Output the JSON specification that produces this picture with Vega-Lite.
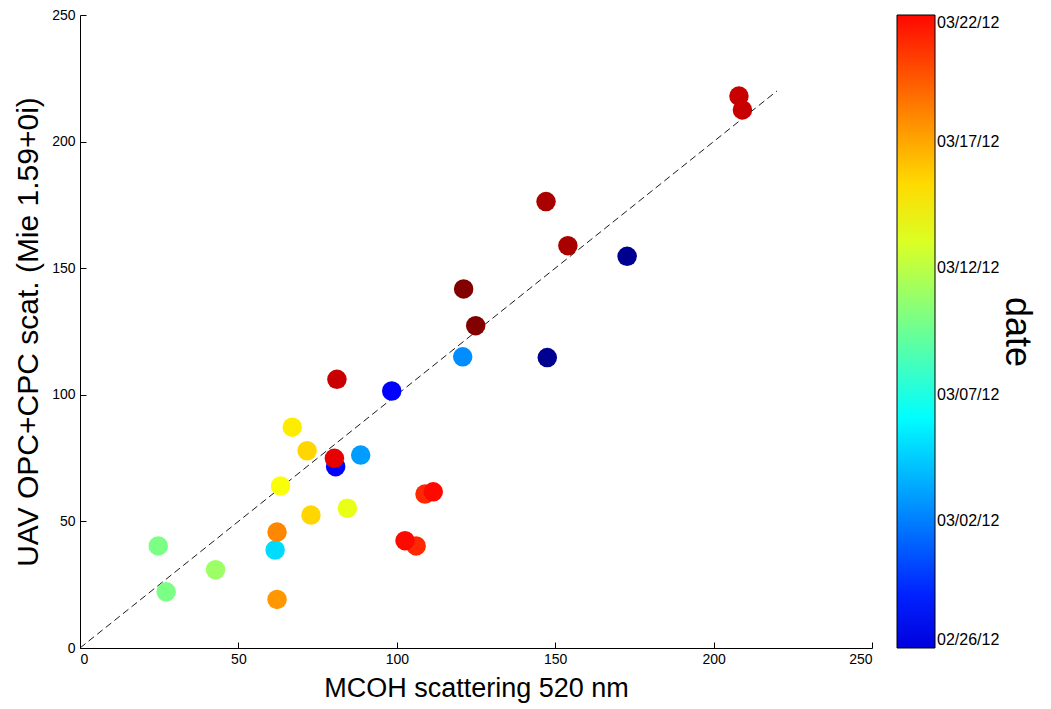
{
  "$schema": "https://vega.github.io/schema/vega-lite/v6.json",
  "width": 792,
  "height": 633,
  "autosize": {"type": "none"},
  "padding": {"left": 80, "top": 15, "right": 179, "bottom": 61},
  "background": "white",
  "config": {"view": {"stroke": null}, "font": "Liberation Sans"},
  "datasets": {
    "points": [
      {"mcoh": 24.7, "uav": 40.3, "date": "2012-03-10"},
      {"mcoh": 27.2, "uav": 22.2, "date": "2012-03-10"},
      {"mcoh": 42.8, "uav": 30.9, "date": "2012-03-11"},
      {"mcoh": 61.6, "uav": 38.7, "date": "2012-03-05"},
      {"mcoh": 62.2, "uav": 45.8, "date": "2012-03-18"},
      {"mcoh": 62.2, "uav": 19.2, "date": "2012-03-17T12:00Z"},
      {"mcoh": 63.3, "uav": 64.0, "date": "2012-03-14"},
      {"mcoh": 67.0, "uav": 87.2, "date": "2012-03-14T18:00Z"},
      {"mcoh": 71.7, "uav": 77.9, "date": "2012-03-15T12:00Z"},
      {"mcoh": 72.9, "uav": 52.5, "date": "2012-03-15T12:00Z"},
      {"mcoh": 80.7, "uav": 71.6, "date": "2012-02-27"},
      {"mcoh": 80.3, "uav": 74.9, "date": "2012-03-23"},
      {"mcoh": 81.1, "uav": 106.1, "date": "2012-03-24"},
      {"mcoh": 88.6, "uav": 76.2, "date": "2012-03-03"},
      {"mcoh": 84.4, "uav": 55.2, "date": "2012-03-13T12:00Z"},
      {"mcoh": 98.4, "uav": 101.5, "date": "2012-02-27"},
      {"mcoh": 106.1, "uav": 40.3, "date": "2012-03-21"},
      {"mcoh": 102.6, "uav": 42.4, "date": "2012-03-22"},
      {"mcoh": 108.9, "uav": 60.8, "date": "2012-03-21"},
      {"mcoh": 111.5, "uav": 61.7, "date": "2012-03-22"},
      {"mcoh": 120.8, "uav": 115.0, "date": "2012-03-02T12:00Z"},
      {"mcoh": 121.1, "uav": 141.8, "date": "2012-03-26T06:00Z"},
      {"mcoh": 124.9, "uav": 127.3, "date": "2012-03-26T06:00Z"},
      {"mcoh": 147.1, "uav": 176.3, "date": "2012-03-25"},
      {"mcoh": 154.0, "uav": 158.9, "date": "2012-03-25"},
      {"mcoh": 172.7, "uav": 154.7, "date": "2012-02-23T12:00Z"},
      {"mcoh": 147.5, "uav": 114.7, "date": "2012-02-23T12:00Z"},
      {"mcoh": 208.0, "uav": 218.0, "date": "2012-03-24"},
      {"mcoh": 209.1, "uav": 212.5, "date": "2012-03-24"}
    ],
    "oneToOne": [
      {"mcoh": 0, "uav": 0},
      {"mcoh": 220, "uav": 220}
    ]
  },
  "encoding": {
    "x": {
      "field": "mcoh",
      "type": "quantitative",
      "scale": {"domain": [0, 250], "nice": false, "zero": false},
      "axis": {
        "title": "MCOH scattering 520 nm",
        "values": [0, 50, 100, 150, 200, 250],
        "grid": false,
        "tickSize": -6,
        "tickColor": "#000",
        "domainColor": "#000",
        "labelColor": "#000",
        "labelFontSize": 14,
        "labelPadding": 10,
        "titleFontSize": 27,
        "titleFontWeight": "normal",
        "titleColor": "#000",
        "titlePadding": 9
      }
    },
    "y": {
      "field": "uav",
      "type": "quantitative",
      "scale": {"domain": [0, 250], "nice": false, "zero": false},
      "axis": {
        "title": "UAV OPC+CPC scat. (Mie 1.59+0i)",
        "values": [0, 50, 100, 150, 200, 250],
        "grid": false,
        "tickSize": -6,
        "tickColor": "#000",
        "domainColor": "#000",
        "labelColor": "#000",
        "labelFontSize": 14,
        "labelPadding": 11,
        "titleFontSize": 30,
        "titleFontWeight": "normal",
        "titleColor": "#000",
        "titlePadding": 8
      }
    }
  },
  "layer": [
    {
      "data": {"name": "oneToOne"},
      "mark": {"type": "line", "color": "#000", "strokeWidth": 0.9, "strokeDash": [7, 4]}
    },
    {
      "data": {"name": "points", "format": {"parse": {"date": "date"}}},
      "mark": {"type": "circle", "size": 380, "opacity": 1},
      "encoding": {
        "color": {
          "field": "date",
          "type": "quantitative",
          "title": "date",
          "scale": {
            "type": "linear",
            "domain": [1329955200000, 1330304040000, 1330652880000, 1331001720000, 1331350560000, 1331699400000, 1332048240000, 1332397080000, 1332745920000],
            "range": ["#000080", "#0000ff", "#0080ff", "#00ffff", "#80ff80", "#ffff00", "#ff8000", "#ff0000", "#800000"],
            "interpolate": "rgb",
            "zero": false,
            "nice": false
          },
          "legend": null
        }
      }
    },
    {
      "data": {"name": "points", "format": {"parse": {"date": "date"}}},
      "mark": {"type": "circle", "size": 380, "opacity": 0},
      "encoding": {
        "color": {
          "field": "date",
          "type": "quantitative",
          "scale": {
            "type": "linear",
            "domain": [1330214400000, 1330304040000, 1330652880000, 1331001720000, 1331350560000, 1331699400000, 1332048240000, 1332374400000],
            "range": ["#0000de", "#0000ff", "#0080ff", "#00ffff", "#80ff80", "#ffff00", "#ff8000", "#ff0800"],
            "interpolate": "rgb",
            "zero": false,
            "nice": false
          },
          "legend": {
            "orient": "none",
            "legendX": 817,
            "legendY": 0,
            "padding": 0,
            "direction": "vertical",
            "gradientLength": 633,
            "gradientThickness": 38,
            "gradientStrokeColor": "#000",
            "gradientStrokeWidth": 1,
            "values": [1330214400000, 1330646400000, 1331078400000, 1331510400000, 1331942400000, 1332374400000],
            "labelExpr": "utcFormat(datum.value, '%m/%d/%y')",
            "labelFontSize": 16,
            "labelColor": "#000",
            "labelOffset": 2,
            "labelOverlap": false,
            "labelBaseline": "middle",
            "title": "date",
            "titleFontSize": 36,
            "titleFontWeight": "normal",
            "titleColor": "#000",
            "titleOrient": "right",
            "titleAngle": 270,
            "titleAnchor": "middle",
            "titleBaseline": "middle",
            "titlePadding": 18
          }
        }
      }
    }
  ],
  "resolve": {"scale": {"color": "independent"}}
}
